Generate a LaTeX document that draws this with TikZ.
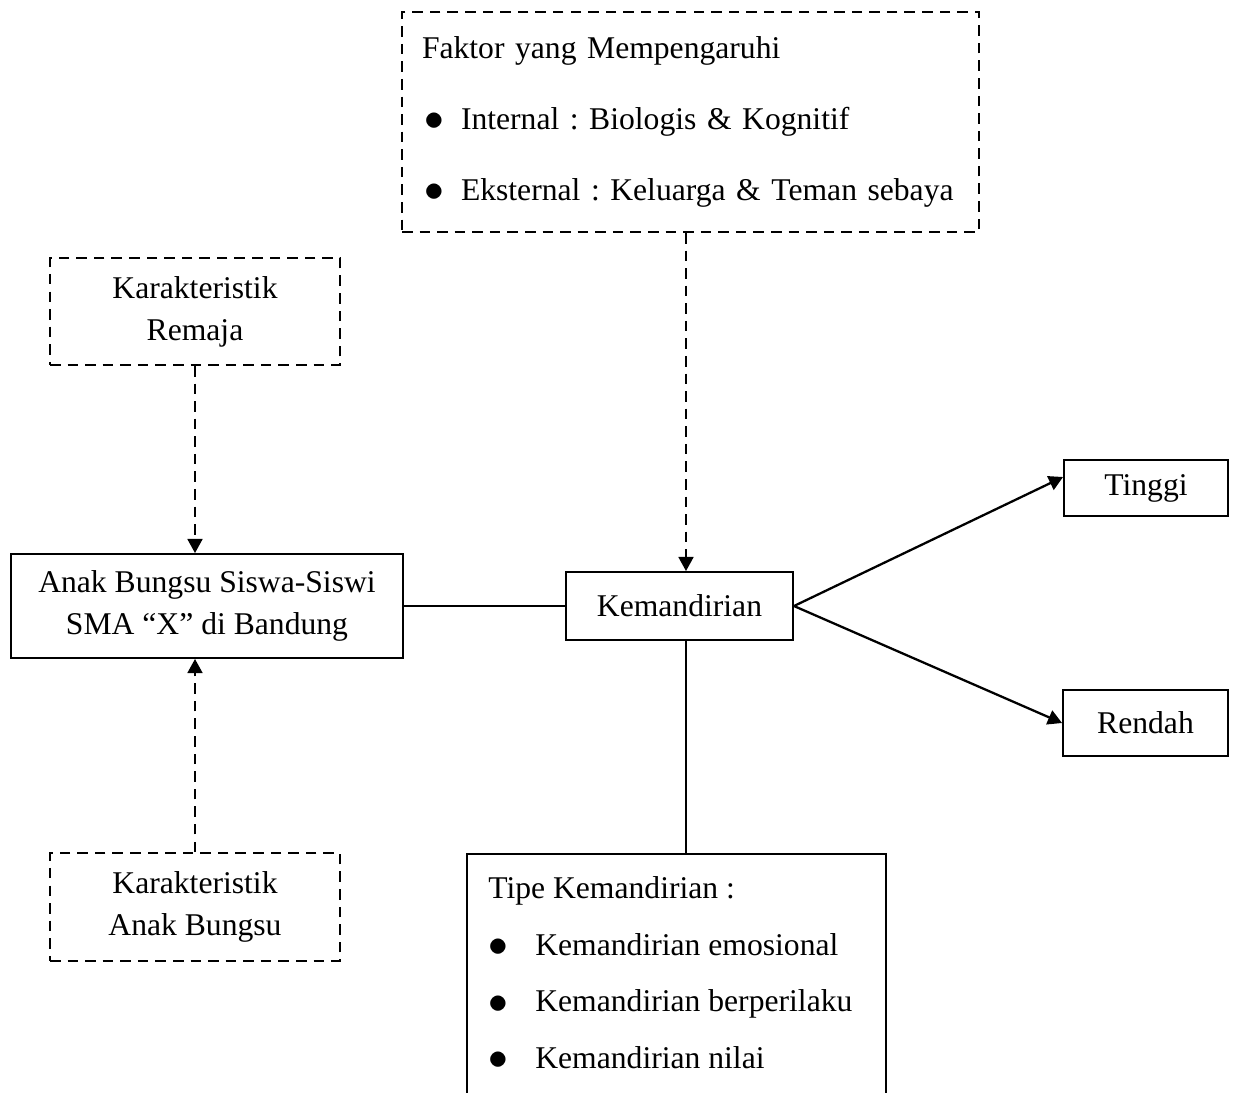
\documentclass[tikz,border=0pt]{standalone}
\usepackage{graphicx}
\usepackage{fontspec}
\setmainfont{Liberation Serif}
\usetikzlibrary{arrows.meta, positioning}

\tikzset{
  box/.style={draw, line width=1.1pt, rectangle, inner sep=0pt},
  dbox/.style={box, dash pattern=on 6pt off 4pt},
  link/.style={line width=1.1pt},
  dlink/.style={link, dash pattern=on 6pt off 4pt},
}
\newcommand{\butir}[2]{\hspace*{#1}\makebox[#2][l]{\raisebox{-0.04em}{\scalebox{1.3}{$\bullet$}}}}
\frenchspacing

\begin{document}
\begin{tikzpicture}[>={Triangle[length=8pt,width=8.5pt]}, font=\fontsize{18}{24}\selectfont]
        \useasboundingbox (0,0) rectangle (24.86,-21.84);
        \clip (0,0) rectangle (24.86,-21.84);

        \node[dbox, text width=10.74cm, inner xsep=0.4cm, minimum height=4.4cm, align=left,
              font=\fontsize{18}{40.3}\selectfont] (faktor) at (13.81,-2.44)
              {Faktor yang Mempengaruhi\\
               \butir{0.04cm}{0.74cm}Internal : Biologis \& Kognitif\\
               \butir{0.04cm}{0.74cm}Eksternal : Keluarga \& Teman sebaya};
        \node[dbox, minimum width=5.8cm, minimum height=2.14cm, align=center]   (remaja)  at (3.9,-6.23)  {Karakteristik\\Remaja};
        \node[box, minimum width=7.84cm, minimum height=2.08cm, align=center]   (anak)    at (4.14,-12.12) {Anak Bungsu Siswa-Siswi\\SMA ``X'' di Bandung};
        \node[dbox, minimum width=5.8cm, minimum height=2.16cm, align=center]   (bungsu)  at (3.9,-18.14) {Karakteristik\\Anak Bungsu};
        \node[box, minimum width=4.54cm, minimum height=1.36cm] (kemandirian) at (13.59,-12.12) {Kemandirian};
        \node[box, minimum width=3.28cm, minimum height=1.12cm] (tinggi)      at (22.92,-9.76)  {Tinggi};
        \node[box, minimum width=3.3cm,  minimum height=1.32cm] (rendah)      at (22.91,-14.46) {Rendah};
        \node[box, anchor=north west, minimum width=8.38cm, minimum height=5.6cm] (tipe) at (9.32,-17.06) {};
        \node[anchor=north west, align=left, inner sep=0pt, font=\fontsize{18}{32.3}\selectfont] (tipeisi)
              at ([xshift=0.44cm, yshift=-0.46cm]tipe.north west)
              {Tipe Kemandirian :\\
               \butir{0cm}{0.94cm}Kemandirian emosional\\
               \butir{0cm}{0.94cm}Kemandirian berperilaku\\
               \butir{0cm}{0.94cm}Kemandirian nilai};

        % garis ke dan dari kemandirian
        \coordinate (kemtop) at ([xshift=0.13cm]kemandirian.north);
        \coordinate (kembot) at ([xshift=0.13cm]kemandirian.south);
        \draw[dlink, ->] (faktor.south -| kemtop) -- (kemtop);
        \draw[dlink, ->] (remaja.south) -- (remaja.south |- anak.north);
        \draw[dlink, ->] (bungsu.north) -- (bungsu.north |- anak.south);
        \draw[link] (anak.east) -- (kemandirian.west);
        \draw[link, line width=1.3pt, ->] (kemandirian.east) -- ([yshift=0.22cm]tinggi.west);
        \draw[link, line width=1.3pt, ->] (kemandirian.east) -- (rendah.west);
        \draw[link] (kembot) -- (tipe.north -| kembot);
    \end{tikzpicture}
\end{document}
